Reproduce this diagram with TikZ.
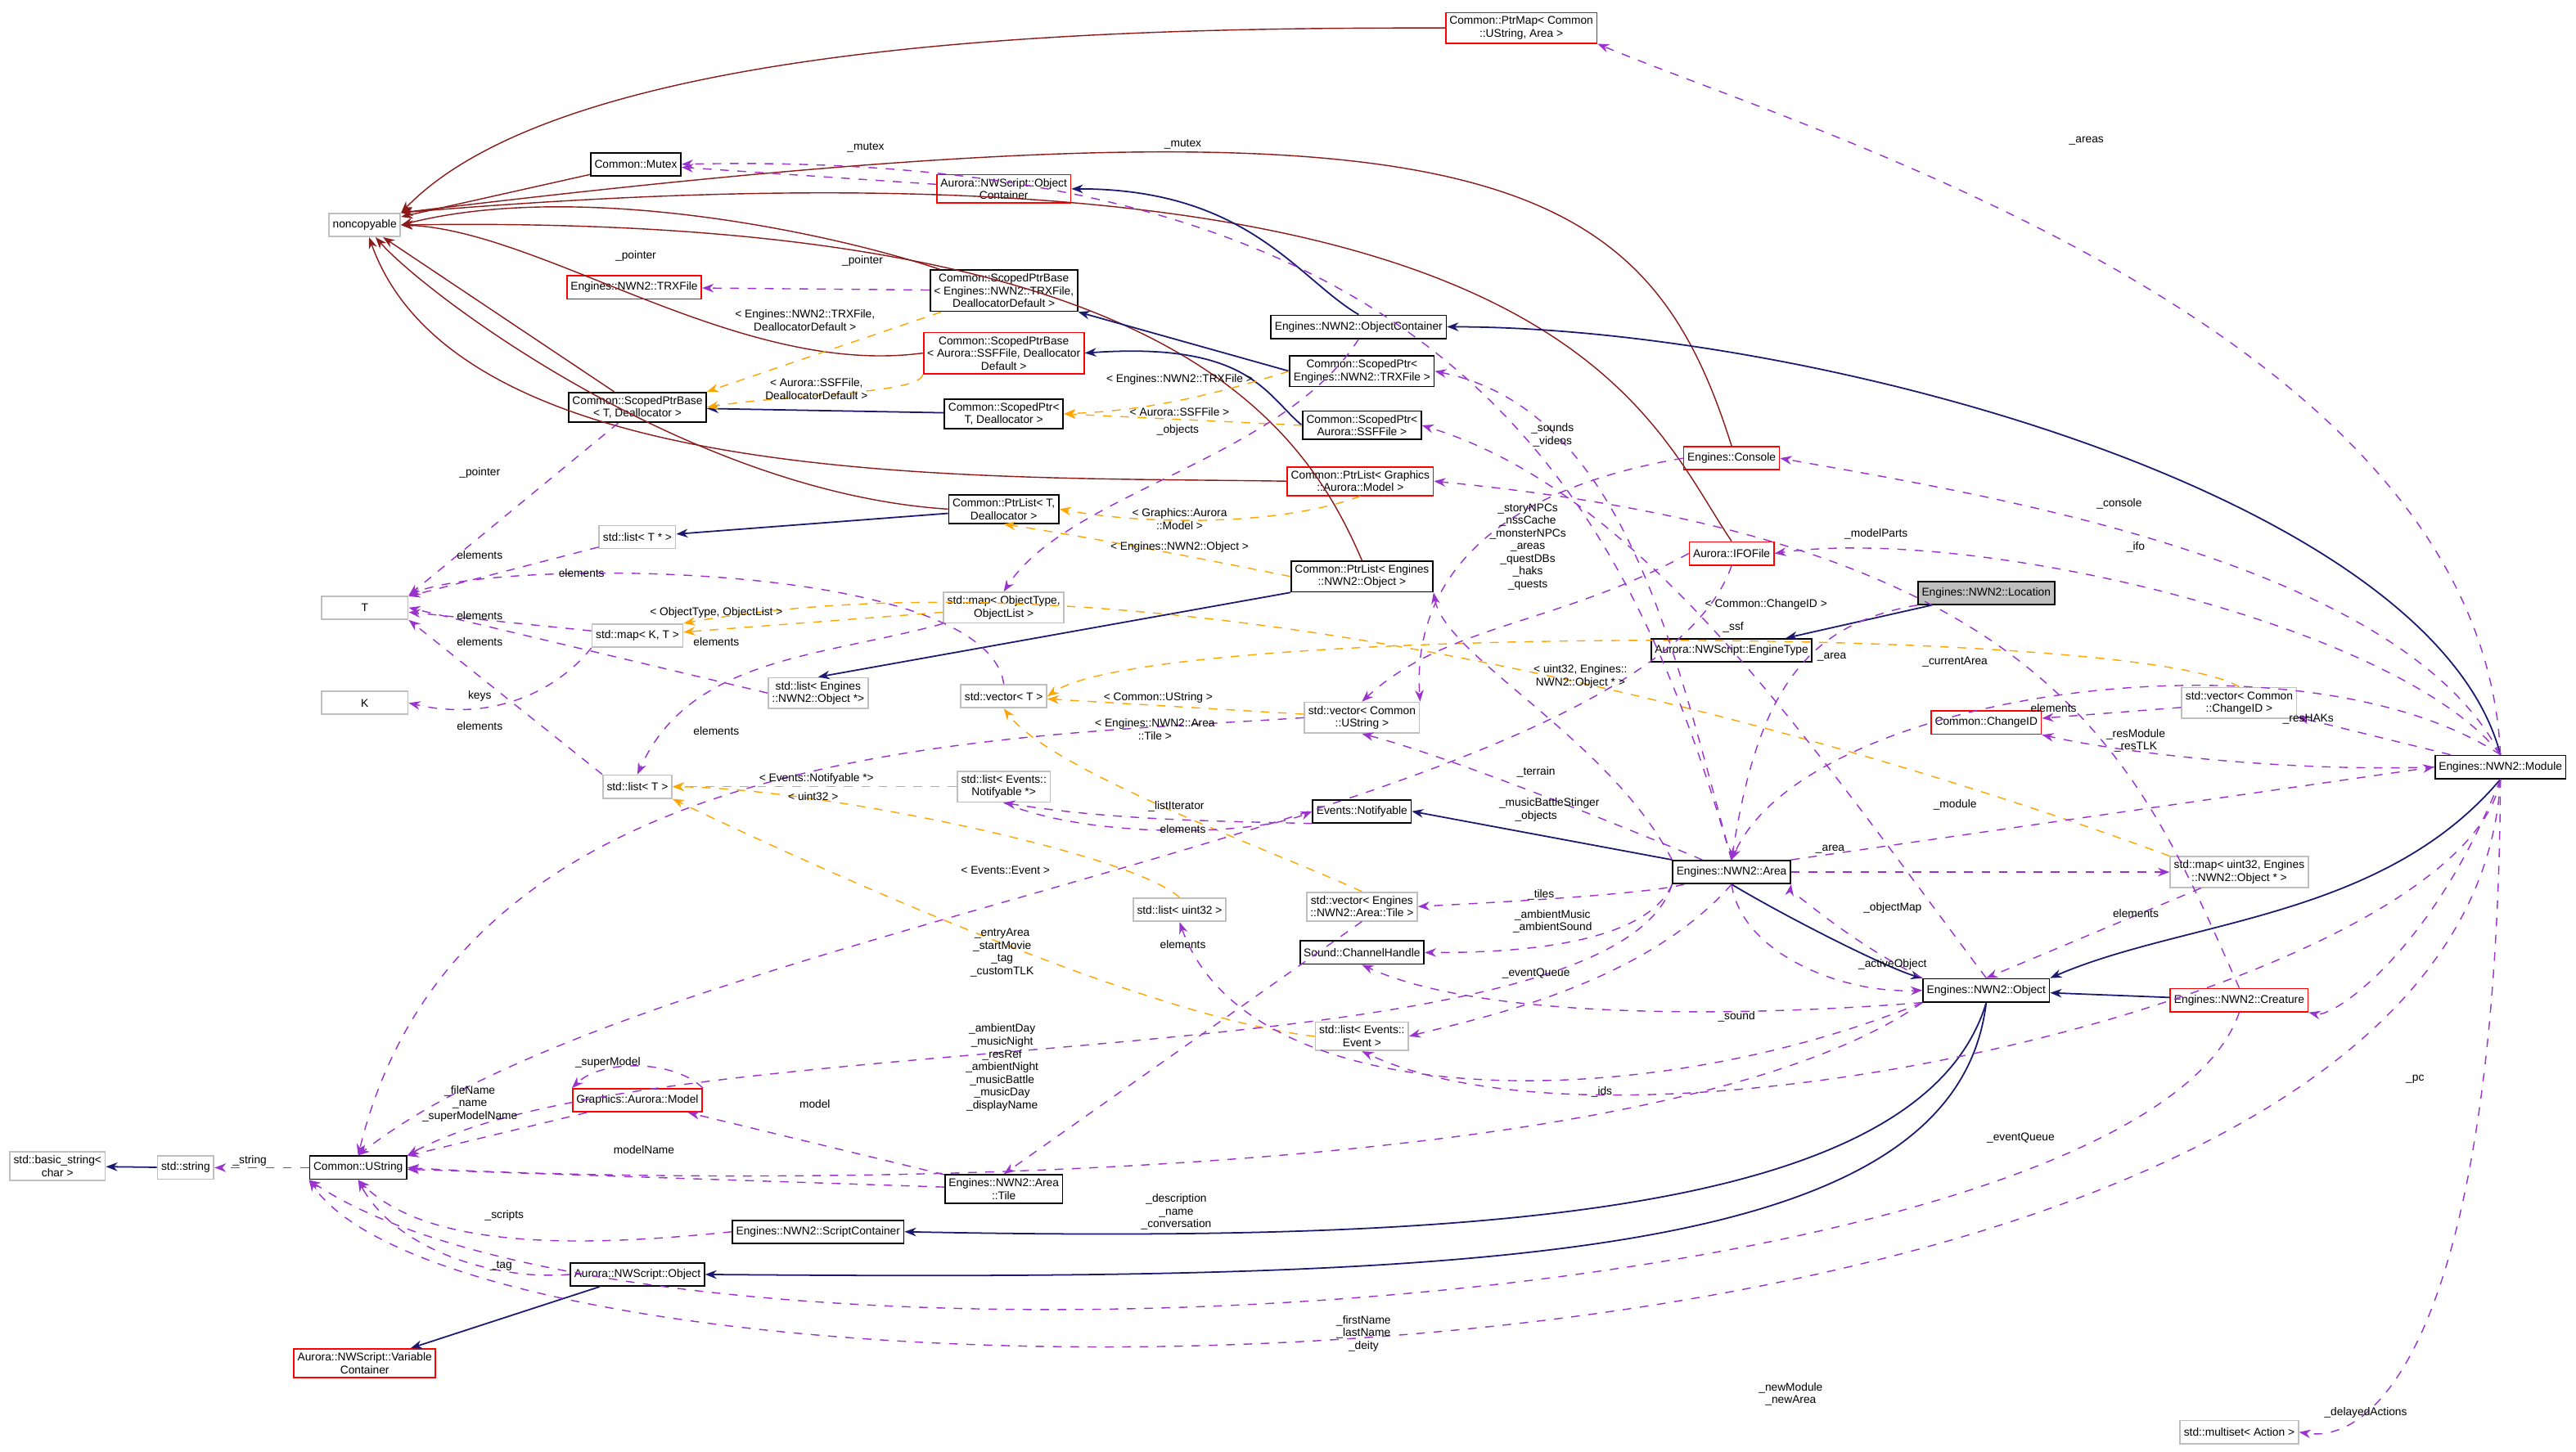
\documentclass[tikz,border=0pt]{standalone}
\usepackage{fontspec}
\setmainfont{Liberation Sans}
\usetikzlibrary{arrows.meta}
\definecolor{inh}{HTML}{191970}
\definecolor{nonc}{HTML}{8B1A1A}
\definecolor{use}{HTML}{9A32CD}
\definecolor{tpl}{HTML}{FFA500}
\begin{document}
\begin{tikzpicture}[x=0.02cm,y=-0.02cm,
      every node/.style={font=\fontsize{3.9}{4.4}\selectfont,align=center},
      cls/.style={draw=black,fill=white,inner sep=1.3pt,minimum height=8pt,line width=0.5pt},
      gcls/.style={cls,draw=black!25},
      rcls/.style={cls,draw=red},
      hcls/.style={cls,fill=black!25},
      lbl/.style={inner sep=0.5pt,fill=none},
      isa/.style={draw=inh,line width=0.5pt,-{Stealth[length=4pt,width=3pt]}},
      ncp/.style={draw=nonc,line width=0.4pt,-{Stealth[length=4pt,width=3pt]}},
      has/.style={draw=use,dashed,line width=0.4pt,-{Stealth[length=4pt,width=3pt]}},
      tmpl/.style={draw=tpl,dashed,line width=0.4pt,-{Stealth[length=4pt,width=3pt]}}]
  \useasboundingbox[fill=white] (0,0) rectangle (1568,884);
  % nodes
  \node[gcls] (noncopyable) at (222,137) {noncopyable};
  \node[cls] (mutex) at (387,100) {Common::Mutex};
  \node[rcls] (auroc) at (611,115) {Aurora::NWScript::Object\\Container};
  \node[rcls] (ptrmap) at (926,17) {Common::PtrMap< Common\\::UString, Area >};
  \node[rcls] (trxfile) at (386,175) {Engines::NWN2::TRXFile};
  \node[cls] (spbtrx) at (611,177) {Common::ScopedPtrBase\\< Engines::NWN2::TRXFile,\\DeallocatorDefault >};
  \node[cls] (engoc) at (827,199) {Engines::NWN2::ObjectContainer};
  \node[rcls] (spbssf) at (611,215) {Common::ScopedPtrBase\\< Aurora::SSFFile, Deallocator\\Default >};
  \node[cls] (spbT) at (388,248) {Common::ScopedPtrBase\\< T, Deallocator >};
  \node[cls] (spT) at (611,252) {Common::ScopedPtr<\\T, Deallocator >};
  \node[cls] (sptrx) at (829,226) {Common::ScopedPtr<\\Engines::NWN2::TRXFile >};
  \node[cls] (spssf) at (829,259) {Common::ScopedPtr<\\Aurora::SSFFile >};
  \node[rcls] (console) at (1054,279) {Engines::Console};
  \node[rcls] (plgfx) at (828,293) {Common::PtrList< Graphics\\::Aurora::Model >};
  \node[cls] (plT) at (611,310) {Common::PtrList< T,\\Deallocator >};
  \node[rcls] (ifo) at (1054,337) {Aurora::IFOFile};
  \node[gcls] (listTp) at (388,327) {std::list< T * >};
  \node[cls] (plobj) at (829,351) {Common::PtrList< Engines\\::NWN2::Object >};
  \node[gcls,minimum width=30] (T) at (222,370) {T};
  \node[gcls] (mapobj) at (611,370) {std::map< ObjectType,\\ObjectList >};
  \node[gcls] (mapKT) at (388,387) {std::map< K, T >};
  \node[hcls] (location) at (1209,361) {Engines::NWN2::Location};
  \node[cls] (enginetype) at (1054,396) {Aurora::NWScript::EngineType};
  \node[gcls,minimum width=30] (K) at (222,428) {K};
  \node[gcls] (listobjp) at (498,422) {std::list< Engines\\::NWN2::Object *>};
  \node[gcls] (vecT) at (611,424) {std::vector< T >};
  \node[gcls] (vecus) at (829,437) {std::vector< Common\\::UString >};
  \node[gcls] (veccid) at (1363,428) {std::vector< Common\\::ChangeID >};
  \node[rcls] (changeid) at (1209,440) {Common::ChangeID};
  \node[gcls] (listT) at (388,479) {std::list< T >};
  \node[gcls] (listnot) at (611,479) {std::list< Events::\\Notifyable *>};
  \node[cls] (notifyable) at (829,494) {Events::Notifyable};
  \node[cls] (module) at (1522,467) {Engines::NWN2::Module};
  \node[cls] (area) at (1054,531) {Engines::NWN2::Area};
  \node[gcls] (mapobjp) at (1363,531) {std::map< uint32, Engines\\::NWN2::Object * >};
  \node[gcls] (vectile) at (829,552) {std::vector< Engines\\::NWN2::Area::Tile >};
  \node[gcls] (listu32) at (718,554) {std::list< uint32 >};
  \node[cls] (channel) at (829,580) {Sound::ChannelHandle};
  \node[cls] (object) at (1209,603) {Engines::NWN2::Object};
  \node[rcls] (creature) at (1363,609) {Engines::NWN2::Creature};
  \node[gcls] (listev) at (829,631) {std::list< Events::\\Event >};
  \node[rcls] (model) at (388,670) {Graphics::Aurora::Model};
  \node[gcls] (basicstr) at (35,710) {std::basic\_string<\\char >};
  \node[gcls] (string) at (113,711) {std::string};
  \node[cls] (ustring) at (218,711) {Common::UString};
  \node[cls] (tile) at (611,724) {Engines::NWN2::Area\\::Tile};
  \node[cls] (scriptc) at (498,750) {Engines::NWN2::ScriptContainer};
  \node[cls] (nwsobj) at (388,776) {Aurora::NWScript::Object};
  \node[rcls] (varc) at (222,830) {Aurora::NWScript::Variable\\Container};
  \node[gcls] (multiset) at (1363,872) {std::multiset< Action >};
  % noncopyable
  \draw[ncp] (mutex) -- (noncopyable);
  \draw[ncp] (ptrmap.west) .. controls (700,17) and (350,20) .. (noncopyable.north east);
  \draw[ncp] (spbtrx) .. controls (500,140) and (350,110) .. (noncopyable.east);
  \draw[ncp] (spbssf.west) .. controls (450,230) and (330,140) .. (noncopyable.east);
  \draw[ncp] (spbT) -- (noncopyable);
  \draw[ncp] (plT.west) .. controls (420,300) and (260,180) .. (noncopyable);
  \draw[ncp] (plgfx.west) .. controls (600,290) and (280,300) .. (noncopyable);
  \draw[ncp] (plobj.north) .. controls (790,250) and (700,130) .. (noncopyable.east);
  \draw[ncp] (console.north) .. controls (1000,100) and (900,50) .. (noncopyable.north east);
  \draw[ncp] (ifo.north) .. controls (1000,250) and (950,70) .. (noncopyable.north east);
  % inheritance
  \draw[isa] (engoc.north) .. controls (790,170) and (760,115) .. (auroc.east);
  \draw[isa] (sptrx.west) -- (spbtrx.south east);
  \draw[isa] (spssf.west) .. controls (770,240) and (760,208) .. (spbssf.east);
  \draw[isa] (spT) -- (spbT);
  \draw[isa] (plT) -- (listTp);
  \draw[isa] (plobj.south west) -- (listobjp.north);
  \draw[isa] (module.north) .. controls (1480,300) and (1100,199) .. (engoc.east);
  \draw[isa] (location) -- (enginetype);
  \draw[isa] (area.north west) -- (notifyable.east);
  \draw[isa] (area.south) .. controls (1090,560) and (1150,590) .. (object.north west);
  \draw[isa] (module.south) .. controls (1450,560) and (1330,560) .. (object.north east);
  \draw[isa] (creature) -- (object);
  \draw[isa] (object.south) .. controls (1170,740) and (900,757) .. (scriptc.east);
  \draw[isa] (object.south) .. controls (1190,770) and (900,780) .. (nwsobj.east);
  \draw[isa] (nwsobj) -- (varc);
  \draw[isa] (string) -- (basicstr);
  % template instances
  \draw[tmpl] (spbtrx) -- (spbT.north east);
  \draw[tmpl] (spbssf.south west) .. controls (560,240) and (480,240) .. (spbT.east);
  \draw[tmpl] (sptrx.west) .. controls (740,240) and (700,250) .. (spT.east);
  \draw[tmpl] (spssf.west) -- (spT.east);
  \draw[tmpl] (plgfx.south) .. controls (780,320) and (700,320) .. (plT.east);
  \draw[tmpl] (plobj.west) .. controls (730,340) and (680,330) .. (plT.south);
  \draw[tmpl] (mapobj) -- (mapKT);
  \draw[tmpl] (veccid.north) .. controls (1300,380) and (700,380) .. (vecT.east);
  \draw[tmpl] (vecus) -- (vecT);
  \draw[tmpl] (vectile.north) .. controls (780,520) and (640,470) .. (vecT.south);
  \draw[tmpl] (mapobjp.north west) .. controls (1100,440) and (700,330) .. (mapKT.north east);
  \draw[tmpl] (listnot) -- (listT);
  \draw[tmpl] (listu32.north) .. controls (690,520) and (500,480) .. (listT.east);
  \draw[tmpl] (listev.west) .. controls (700,620) and (500,530) .. (listT.south east);
  % usage
  \draw[has] (auroc) -- (mutex);
  \draw[has] (area.north) .. controls (990,300) and (880,90) .. (mutex.east);
  \draw[has] (spbtrx) -- (trxfile);
  \draw[has] (spbT) -- (T.north east);
  \draw[has] (listTp) -- (T);
  \draw[has] (mapKT) -- (T);
  \draw[has] (mapKT.south west) .. controls (340,420) and (300,440) .. (K.east);
  \draw[has] (listobjp.west) -- (T.east);
  \draw[has] (vecT.north) .. controls (600,340) and (300,340) .. (T.north east);
  \draw[has] (listT.north west) -- (T.south east);
  \draw[has] (engoc.south) .. controls (780,280) and (650,300) .. (mapobj.north);
  \draw[has] (mapobj.south west) .. controls (500,400) and (420,400) .. (listT.north);
  \draw[has] (vecus.west) .. controls (600,450) and (280,450) .. (ustring.north);
  \draw[has] (notifyable.south west) .. controls (750,500) and (680,500) .. (listnot.south);
  \draw[has] (listnot.south) .. controls (660,510) and (760,510) .. (notifyable.west);
  \draw[has] (vectile.south) -- (tile.north);
  \draw[has] (model.north east) .. controls (410,645) and (366,645) .. (model.north west);
  \draw[has] (model) -- (ustring);
  \draw[has] (tile) -- (model);
  \draw[has] (tile) -- (ustring);
  \draw[has] (ustring) -- (string);
  \draw[has] (scriptc.west) .. controls (350,760) and (260,760) .. (ustring.south);
  \draw[has] (nwsobj.west) .. controls (300,780) and (240,760) .. (ustring.south);
  \draw[has] (creature.south) .. controls (1300,800) and (400,860) .. (ustring.south west);
  \draw[has] (module.south) .. controls (1500,880) and (300,880) .. (ustring.south west);
  \draw[has] (object.south west) .. controls (1000,730) and (400,720) .. (ustring.east);
  \draw[has] (area.south west) .. controls (980,660) and (400,620) .. (ustring.north east);
  \draw[has] (ifo.south) .. controls (1000,500) and (400,560) .. (ustring.north);
  \draw[has] (area) .. controls (980,500) and (880,460) .. (vecus.south);
  \draw[has] (ifo.west) .. controls (950,380) and (880,380) .. (vecus.north);
  \draw[has] (console.west) .. controls (900,300) and (860,360) .. (vecus.north east);
  \draw[has] (area.south west) .. controls (1000,580) and (900,580) .. (channel.east);
  \draw[has] (area) .. controls (1000,545) and (900,550) .. (vectile.east);
  \draw[has] (area.south) .. controls (1000,600) and (900,620) .. (listev.east);
  \draw[has] (area) -- (mapobjp);
  \draw[has] (area.north east) -- (module.west);
  \draw[has] (area.north) .. controls (1020,400) and (990,250) .. (sptrx.east);
  \draw[has] (area.north west) .. controls (980,450) and (880,400) .. (plobj.south east);
  \draw[has] (creature.north) .. controls (1300,460) and (1250,330) .. (plgfx.east);
  \draw[has] (module.north) .. controls (1460,380) and (1200,320) .. (ifo.east);
  \draw[has] (module.north) .. controls (1460,340) and (1200,300) .. (console.east);
  \draw[has] (module.north) .. controls (1510,200) and (1100,80) .. (ptrmap.south east);
  \draw[has] (module) -- (veccid);
  \draw[has] (module.west) .. controls (1400,470) and (1300,460) .. (changeid.south east);
  \draw[has] (veccid) -- (changeid);
  \draw[has] (module.north) .. controls (1400,380) and (1100,420) .. (area.north);
  \draw[has] (location.south west) .. controls (1100,380) and (1070,420) .. (area.north);
  \draw[has] (object.north west) .. controls (1120,570) and (1090,540) .. (area.south east);
  \draw[has] (area.south) .. controls (1060,580) and (1120,605) .. (object.west);
  \draw[has] (module.south) .. controls (1480,580) and (1420,620) .. (creature.south east);
  \draw[has] (module.south) .. controls (1500,600) and (1000,720) .. (listev.south);
  \draw[has] (module.south) .. controls (1520,800) and (1450,880) .. (multiset.east);
  \draw[has] (object.south west) .. controls (1050,620) and (900,620) .. (channel.south);
  \draw[has] (object.south west) .. controls (1000,680) and (760,680) .. (listu32.south);
  \draw[has] (mapobjp) -- (object.north);
  \draw[has] (object.north) .. controls (1100,450) and (1000,300) .. (spssf.east);
  % labels
  \node[lbl] at (387,156) {\_pointer};
  \node[lbl] at (525,159) {\_pointer};
  \node[lbl] at (527,90) {\_mutex};
  \node[lbl] at (720,88) {\_mutex};
  \node[lbl] at (490,195) {< Engines::NWN2::TRXFile,\\DeallocatorDefault >};
  \node[lbl] at (497,237) {< Aurora::SSFFile,\\DeallocatorDefault >};
  \node[lbl] at (718,231) {< Engines::NWN2::TRXFile >};
  \node[lbl] at (718,251) {< Aurora::SSFFile >};
  \node[lbl] at (717,262) {\_objects};
  \node[lbl] at (718,316) {< Graphics::Aurora\\::Model >};
  \node[lbl] at (718,333) {< Engines::NWN2::Object >};
  \node[lbl] at (292,288) {\_pointer};
  \node[lbl] at (292,338) {elements};
  \node[lbl] at (354,349) {elements};
  \node[lbl] at (292,375) {elements};
  \node[lbl] at (292,391) {elements};
  \node[lbl] at (292,424) {keys};
  \node[lbl] at (292,442) {elements};
  \node[lbl] at (436,373) {< ObjectType, ObjectList >};
  \node[lbl] at (436,391) {elements};
  \node[lbl] at (436,445) {elements};
  \node[lbl] at (705,425) {< Common::UString >};
  \node[lbl] at (703,444) {< Engines::NWN2::Area\\::Tile >};
  \node[lbl] at (497,474) {< Events::Notifyable *>};
  \node[lbl] at (495,485) {< uint32 >};
  \node[lbl] at (612,530) {< Events::Event >};
  \node[lbl] at (716,491) {\_listIterator};
  \node[lbl] at (720,505) {elements};
  \node[lbl] at (720,575) {elements};
  \node[lbl] at (370,647) {\_superModel};
  \node[lbl] at (286,672) {\_fileName\\\_name\\\_superModelName};
  \node[lbl] at (496,672) {model};
  \node[lbl] at (392,700) {modelName};
  \node[lbl] at (152,707) {\_string};
  \node[lbl] at (307,740) {\_scripts};
  \node[lbl] at (305,771) {\_tag};
  \node[lbl] at (830,812) {\_firstName\\\_lastName\\\_deity};
  \node[lbl] at (1090,849) {\_newModule\\\_newArea};
  \node[lbl] at (716,738) {\_description\\\_name\\\_conversation};
  \node[lbl] at (610,650) {\_ambientDay\\\_musicNight\\\_resRef\\\_ambientNight\\\_musicBattle\\\_musicDay\\\_displayName};
  \node[lbl] at (610,580) {\_entryArea\\\_startMovie\\\_tag\\\_customTLK};
  \node[lbl] at (943,489) {\_musicBattleStinger};
  \node[lbl] at (930,333) {\_storyNPCs\\\_nssCache\\\_monsterNPCs\\\_areas\\\_questDBs\\\_haks\\\_quests};
  \node[lbl] at (945,265) {\_sounds\\\_videos};
  \node[lbl] at (945,561) {\_ambientMusic\\\_ambientSound};
  \node[lbl] at (938,545) {\_tiles};
  \node[lbl] at (935,593) {\_eventQueue};
  \node[lbl] at (1152,553) {\_objectMap};
  \node[lbl] at (1190,490) {\_module};
  \node[lbl] at (935,470) {\_terrain};
  \node[lbl] at (935,497) {\_objects};
  \node[lbl] at (1142,325) {\_modelParts};
  \node[lbl] at (1300,333) {\_ifo};
  \node[lbl] at (1290,307) {\_console};
  \node[lbl] at (1270,86) {\_areas};
  \node[lbl] at (1405,438) {\_resHAKs};
  \node[lbl] at (1300,451) {\_resModule\\\_resTLK};
  \node[lbl] at (1250,431) {elements};
  \node[lbl] at (1190,403) {\_currentArea};
  \node[lbl] at (1115,400) {\_area};
  \node[lbl] at (1114,517) {\_area};
  \node[lbl] at (1152,587) {\_activeObject};
  \node[lbl] at (1470,657) {\_pc};
  \node[lbl] at (1230,693) {\_eventQueue};
  \node[lbl] at (1440,860) {\_delayedActions};
  \node[lbl] at (1057,619) {\_sound};
  \node[lbl] at (975,665) {\_ids};
  \node[lbl] at (1300,556) {elements};
  \node[lbl] at (1055,382) {\_ssf};
  \node[lbl] at (1075,368) {< Common::ChangeID >};
  \node[lbl] at (962,412) {< uint32, Engines::\\NWN2::Object * >};
\end{tikzpicture}
\end{document}
